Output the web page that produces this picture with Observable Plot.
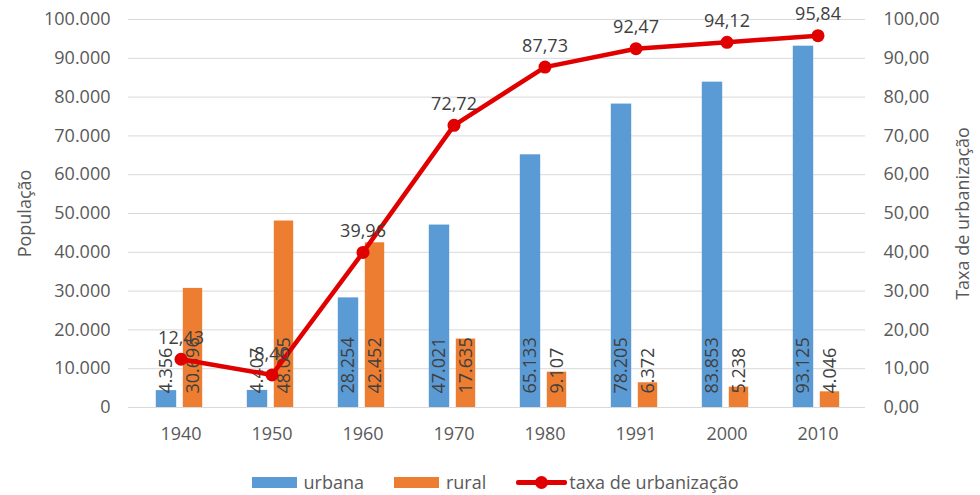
<!DOCTYPE html>
<html>
<head>
<meta charset="utf-8">
<script src="https://cdn.jsdelivr.net/npm/d3@7"></script>
<script src="https://cdn.jsdelivr.net/npm/@observablehq/plot@0.6"></script>
<style>
  body { margin: 0; background: #ffffff; font-family: "Open Sans", sans-serif; }
  #chart svg { display: block; }
  #legend { display: flex; justify-content: center; align-items: center; height: 54px; font-size: 18px; color: #595959; padding-left: 10px; }
  .item { display: flex; align-items: center; margin: 0 15px; }
  .sw { width: 45px; height: 11px; margin-right: 7px; }
  .ln { position: relative; width: 51px; height: 13px; margin-right: 2px; }
  .ln .bar { position: absolute; left: 0; right: 0; top: 4px; height: 5px; background: #e00000; border-radius: 2px; }
  .ln .dot { position: absolute; left: 19px; top: 0; width: 13px; height: 13px; background: #e00000; border-radius: 50%; }
</style>
</head>
<body>
<div id="chart"></div>
<div id="legend">
  <div class="item"><div class="sw" style="background:#5b9bd5"></div><span>urbana</span></div>
  <div class="item"><div class="sw" style="background:#ed7d31"></div><span>rural</span></div>
  <div class="item"><div class="ln"><div class="bar"></div><div class="dot"></div></div><span>taxa de urbanização</span></div>
</div>
<script>
const years = ["1940", "1950", "1960", "1970", "1980", "1991", "2000", "2010"];
const urbana = [4356, 4407, 28254, 47021, 65133, 78205, 83853, 93125];
const rural = [30696, 48065, 42452, 17635, 9107, 6372, 5238, 4046];
const taxa = [12.43, 8.40, 39.96, 72.72, 87.73, 92.47, 94.12, 95.84];
const leftTicks = [0, 10000, 20000, 30000, 40000, 50000, 60000, 70000, 80000, 90000, 100000];

const loc = d3.formatLocale({decimal: ",", thousands: ".", grouping: [3], currency: ["", ""]});
const fmtPop = loc.format(",");
const fmtRate = d => d.toFixed(2).replace(".", ",");

const data = years.map((y, i) => ({year: y, urbana: urbana[i], rural: rural[i], taxa: taxa[i], taxaY: taxa[i] * 1000}));

const textColor = "#404040";

const chart = Plot.plot({
  width: 980,
  height: 455,
  marginLeft: 128,
  marginRight: 115,
  marginTop: 19,
  marginBottom: 48,
  style: {fontFamily: "Open Sans", fontSize: "18px", color: "#595959", background: "#ffffff"},
  x: {type: "band", domain: years, padding: 0, insetLeft: 4},
  y: {domain: [0, 100000]},
  marks: [
    Plot.ruleY(leftTicks, {stroke: "#d9d9d9", strokeWidth: 1}),
    Plot.axisY({anchor: "left", ticks: leftTicks, tickFormat: fmtPop, tickSize: 0, tickPadding: 18,
      label: "População", labelAnchor: "center", labelArrow: false, labelOffset: 110, fontSize: 18}),
    Plot.axisY({anchor: "right", ticks: leftTicks, tickFormat: d => fmtRate(d / 1000), tickSize: 0, tickPadding: 18,
      label: "Taxa de urbanização", labelAnchor: "center", labelArrow: false, labelOffset: 103, fontSize: 18}),
    Plot.axisX({anchor: "bottom", tickSize: 0, tickPadding: 20, label: null, fontSize: 18}),
    Plot.barY(data, {x: "year", y: "urbana", fill: "#5b9bd5", insetLeft: 20.8, insetRight: 49.8}),
    Plot.barY(data, {x: "year", y: "rural", fill: "#ed7d31", insetLeft: 47.8, insetRight: 23.8}),
    Plot.text(data, {x: "year", y: () => 0, text: d => fmtPop(d.urbana), rotate: -90, textAnchor: "start", lineAnchor: "middle", dx: -14.5, dy: -14, fill: textColor, fontSize: 18}),
    Plot.text(data, {x: "year", y: () => 0, text: d => fmtPop(d.rural), rotate: -90, textAnchor: "start", lineAnchor: "middle", dx: 12, dy: -14, fill: textColor, fontSize: 18}),
    Plot.line(data, {x: "year", y: "taxaY", stroke: "#e00000", strokeWidth: 4.5}),
    Plot.dot(data, {x: "year", y: "taxaY", r: 6.5, fill: "#e00000"}),
    Plot.text(data, {x: "year", y: "taxaY", text: d => fmtRate(d.taxa), dy: -21, fill: textColor, fontSize: 18})
  ]
});
document.getElementById("chart").appendChild(chart);
</script>
</body>
</html>
